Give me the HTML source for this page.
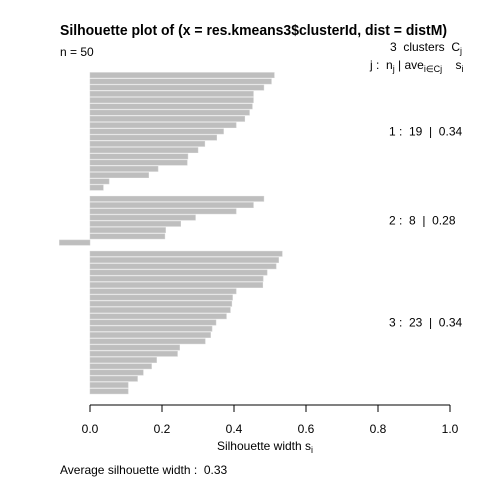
<!DOCTYPE html>
<html><head><meta charset="utf-8"><style>
body{margin:0;background:#fff}
svg text{font-family:"Liberation Sans",Arial,sans-serif;font-size:12px;fill:#000;white-space:pre}
</style></head><body>
<svg id="chart" width="480" height="480" xmlns="http://www.w3.org/2000/svg" xml:space="preserve">
<text x="60" y="35" textLength="387" lengthAdjust="spacingAndGlyphs" style="font-size:14.5px;font-weight:bold">Silhouette plot of (x = res.kmeans3$clusterId, dist = distM)</text>
<text x="60" y="56">n = 50</text>
<text x="390" y="51">3  clusters  C<tspan dy="3" font-size="9">j</tspan></text>
<text x="370" y="69">j :  n<tspan dy="3" font-size="9">j</tspan><tspan dy="-3"> | ave</tspan><tspan dy="3" font-size="9">i∈Cj</tspan><tspan dy="-3">    s</tspan><tspan dy="3" font-size="9">i</tspan></text>
<g id="bars"></g>
<g id="labels"></g>
<line x1="90" y1="405" x2="450" y2="405" stroke="#000"/>
<g id="ticks"></g>
<text x="265" y="450" text-anchor="middle">Silhouette width s<tspan dy="3" font-size="9">i</tspan></text>
<text x="60" y="474">Average silhouette width :  0.33</text>
</svg>
<script>
const clusterIds = [1, 2, 3];
const clusterSizes = [19, 8, 23];
const clusterAverages = ["0.34", "0.28", "0.34"];
const silhouette1 = [0.512,0.504,0.483,0.454,0.454,0.451,0.443,0.430,0.406,0.371,0.352,0.319,0.300,0.272,0.270,0.189,0.163,0.053,0.037];
const silhouette2 = [0.483,0.454,0.406,0.293,0.252,0.210,0.208,-0.085];
const silhouette3 = [0.534,0.524,0.517,0.492,0.481,0.480,0.406,0.396,0.394,0.390,0.379,0.350,0.339,0.335,0.320,0.249,0.243,0.185,0.171,0.148,0.132,0.106,0.106];
const xTicks = [0, 0.2, 0.4, 0.6, 0.8, 1.0];
const xTickLabels = ["0.0", "0.2", "0.4", "0.6", "0.8", "1.0"];

const NS = "http://www.w3.org/2000/svg";
const xScale = v => 90 + v * 360;
const pitch = 6.25, gap = 4.95, top0 = 72;
const bars = document.getElementById('bars');
const labels = document.getElementById('labels');
let pos = 0;
[silhouette1, silhouette2, silhouette3].forEach((vals, ci) => {
  const startY = top0 + pos * pitch + ci * gap;
  vals.forEach((v, i) => {
    const y = startY + i * pitch;
    const r = document.createElementNS(NS, 'rect');
    
    
    const x0 = Math.min(xScale(0), xScale(v));
    r.setAttribute('x', x0);
    r.setAttribute('y', y + 0.5);
    r.setAttribute('width', Math.abs(xScale(v) - xScale(0)));
    r.setAttribute('height', pitch - 1);
    r.setAttribute('fill', '#bebebe');
    r.setAttribute('stroke', '#d0d0d0');
    r.setAttribute('stroke-width', '0.5');
    bars.appendChild(r);
  });
  const midY = startY + vals.length * pitch / 2 + 4;
  const t = document.createElementNS(NS, 'text');
  
  
  t.setAttribute('x', 389);
  t.setAttribute('y', midY);
  t.textContent = clusterIds[ci] + " :  " + clusterSizes[ci] + "  |  " + clusterAverages[ci];
  labels.appendChild(t);
  pos += vals.length;
});
const ticks = document.getElementById('ticks');
xTicks.forEach((v, i) => {
  const l = document.createElementNS(NS, 'line');
  
  
  l.setAttribute('x1', xScale(v)); l.setAttribute('x2', xScale(v));
  l.setAttribute('y1', 405); l.setAttribute('y2', 412);
  l.setAttribute('stroke', '#000');
  ticks.appendChild(l);
  const t = document.createElementNS(NS, 'text');
  
  
  t.setAttribute('x', xScale(v)); t.setAttribute('y', 433);
  t.setAttribute('text-anchor', 'middle');
  t.textContent = xTickLabels[i];
  ticks.appendChild(t);
});
</script>
</body></html>
